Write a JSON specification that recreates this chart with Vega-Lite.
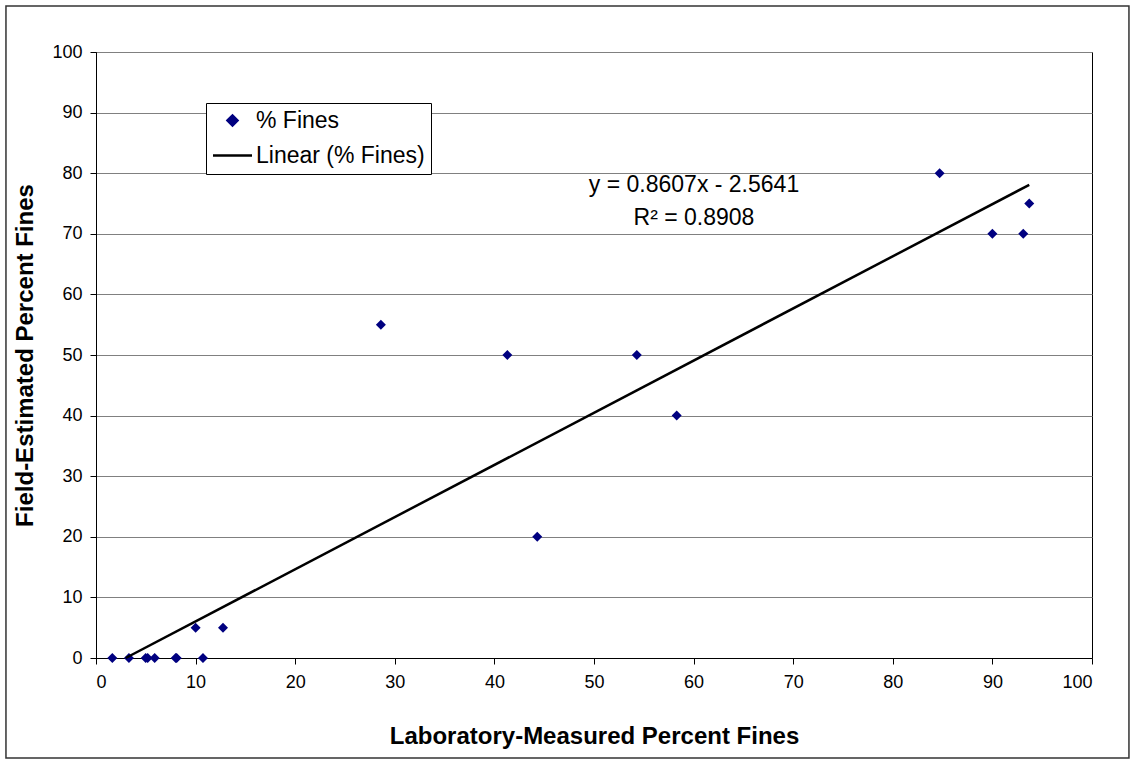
{
  "$schema": "https://vega.github.io/schema/vega-lite/v6.json",
  "width": 996,
  "height": 606,
  "autosize": {"type": "none"},
  "padding": {"left": 96, "top": 52, "right": 43, "bottom": 102},
  "background": "white",
  "config": {
    "font": "Liberation Sans",
    "view": {"stroke": "black", "strokeWidth": 1},
    "axis": {
      "labelFont": "Liberation Sans",
      "labelFontSize": 18,
      "labelColor": "black",
      "titleFont": "Liberation Sans",
      "titleFontSize": 24,
      "titleFontWeight": "bold",
      "titleColor": "black",
      "domainColor": "black",
      "tickColor": "black",
      "tickSize": 6,
      "gridColor": "#808080",
      "gridOpacity": 1,
      "gridWidth": 1
    }
  },
  "layer": [
    {
      "data": {"values": [{"a": 1}]},
      "mark": {"type": "rect", "fill": null, "stroke": "#333333", "strokeWidth": 1.5, "clip": false},
      "encoding": {
        "x": {"datum": -9.04, "type": "quantitative", "scale": {"domain": [0, 100]}},
        "x2": {"datum": 103.71},
        "y": {"datum": -16.5, "type": "quantitative", "scale": {"domain": [0, 100]}},
        "y2": {"datum": 107.59}
      }
    },
    {
      "data": {
        "values": [
          {"lab": 1.64, "field": 0, "series": "% Fines"},
          {"lab": 3.31, "field": 0, "series": "% Fines"},
          {"lab": 4.99, "field": 0, "series": "% Fines"},
          {"lab": 5.19, "field": 0, "series": "% Fines"},
          {"lab": 5.89, "field": 0, "series": "% Fines"},
          {"lab": 8.0, "field": 0, "series": "% Fines"},
          {"lab": 8.1, "field": 0, "series": "% Fines"},
          {"lab": 10.0, "field": 5, "series": "% Fines"},
          {"lab": 10.74, "field": 0, "series": "% Fines"},
          {"lab": 12.75, "field": 5, "series": "% Fines"},
          {"lab": 28.6, "field": 55, "series": "% Fines"},
          {"lab": 41.3, "field": 50, "series": "% Fines"},
          {"lab": 44.3, "field": 20, "series": "% Fines"},
          {"lab": 54.3, "field": 50, "series": "% Fines"},
          {"lab": 58.3, "field": 40, "series": "% Fines"},
          {"lab": 84.7, "field": 80, "series": "% Fines"},
          {"lab": 90.0, "field": 70, "series": "% Fines"},
          {"lab": 93.1, "field": 70, "series": "% Fines"},
          {"lab": 93.7, "field": 75, "series": "% Fines"}
        ]
      },
      "mark": {"type": "point", "filled": true, "opacity": 1, "size": 100, "clip": false},
      "encoding": {
        "x": {
          "field": "lab", "type": "quantitative",
          "scale": {"domain": [0, 100], "nice": false},
          "axis": {"values": [0,10,20,30,40,50,60,70,80,90,100], "grid": false, "title": "Laboratory-Measured Percent Fines", "titlePadding": 33, "labelPadding": 9}
        },
        "y": {
          "field": "field", "type": "quantitative",
          "scale": {"domain": [0, 100], "nice": false},
          "axis": {"values": [0,10,20,30,40,50,60,70,80,90,100], "grid": true, "title": "Field-Estimated Percent Fines", "titlePadding": 14, "labelPadding": 8}
        },
        "color": {
          "field": "series", "type": "nominal",
          "scale": {"domain": ["% Fines", "Linear (% Fines)"], "range": ["#000080", "black"]},
          "legend": {
            "title": null,
            "orient": "none",
            "legendX": 110,
            "legendY": 51,
            "fillColor": "white",
            "strokeColor": "black",
            "padding": 6,
            "labelFont": "Liberation Sans",
            "labelFontSize": 23,
            "labelColor": "black",
            "labelLimit": 400,
            "symbolSize": 100,
            "symbolOffset": 9,
            "rowPadding": 11,
            "labelOffset": 12,
            "symbolStrokeWidth": 2.5,
            "encode": {
              "symbols": {
                "update": {
                  "stroke": {"signal": "datum.value === '% Fines' ? '#000080' : 'black'"},
                  "strokeWidth": {"signal": "datum.value === '% Fines' ? 0 : 2.5"}
                }
              }
            }
          }
        },
        "shape": {
          "field": "series", "type": "nominal",
          "scale": {"domain": ["% Fines", "Linear (% Fines)"], "range": ["diamond", "M-3.9,0H3.9"]},
          "legend": null
        }
      }
    },
    {
      "data": {
        "values": [
          {"lab": 2.98, "field": 0, "series": "Linear (% Fines)"},
          {"lab": 93.7, "field": 78.08, "series": "Linear (% Fines)"}
        ]
      },
      "mark": {"type": "line", "strokeWidth": 2.5, "color": "black"},
      "encoding": {
        "x": {"field": "lab", "type": "quantitative"},
        "y": {"field": "field", "type": "quantitative"},
        "color": {"field": "series", "type": "nominal"}
      }
    },
    {
      "data": {
        "values": [
          {"lab": 60.04, "field": 78.05, "txt": "y = 0.8607x - 2.5641"},
          {"lab": 60.04, "field": 72.6, "txt": "R² = 0.8908"}
        ]
      },
      "mark": {"type": "text", "fontSize": 23, "font": "Liberation Sans", "color": "black", "align": "center", "baseline": "middle"},
      "encoding": {
        "x": {"field": "lab", "type": "quantitative"},
        "y": {"field": "field", "type": "quantitative"},
        "text": {"field": "txt"}
      }
    }
  ]
}
